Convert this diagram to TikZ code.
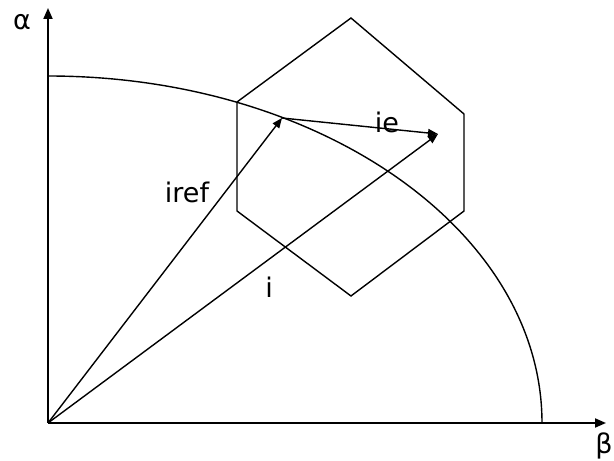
\documentclass[tikz,border=0pt]{standalone}
\usepackage{fontspec}
\setmainfont{DejaVu Sans}
\usetikzlibrary{arrows.meta}
\begin{document}
\begin{tikzpicture}[
    x=1pt,
    y=1pt,
    every node/.style={font=\fontsize{27}{32}\selectfont, inner sep=0pt},
    vec/.style={-{Triangle[length=10pt,width=8pt]}, line width=1.4pt},
    axis/.style={-{Triangle[length=11pt,width=9pt]}, line width=2pt}
]
    \useasboundingbox (-48,-38) rectangle (566,423);

    % axes
    \coordinate (O) at (0,0);
    \coordinate (alphaend) at (0,415);
    \coordinate (betaend) at (558,0);
    \draw[axis] (O) -- (alphaend);
    \draw[axis] (O) -- (betaend);
    \node (alpha) at (-26,401) {α};
    \node (beta) at (556,-23) {β};

    % limit circle
    \draw[line width=1.4pt] (0,347) arc[start angle=90, end angle=0, x radius=494pt, y radius=347pt];

    % hexagon
    \coordinate (htop) at (303,405);
    \coordinate (htl) at (189,321);
    \coordinate (hbl) at (189,212);
    \coordinate (hbot) at (303,127);
    \coordinate (hbr) at (416,212);
    \coordinate (htr) at (416,309);
    \draw[line width=1.4pt] (htop) -- (htl) -- (hbl) -- (hbot) -- (hbr) -- (htr) -- cycle;

    % current vectors
    \coordinate (irefend) at (234,305);
    \coordinate (iend) at (390,289);
    \draw[vec] (O) -- (irefend);
    \draw[vec] (O) -- (iend);
    \draw[vec] (irefend) -- (iend);

    \node (iref) at (139,231) {iref};
    \node (ie) at (339,301) {ie};
    \node (i) at (221,136) {i};

\end{tikzpicture}
\end{document}
